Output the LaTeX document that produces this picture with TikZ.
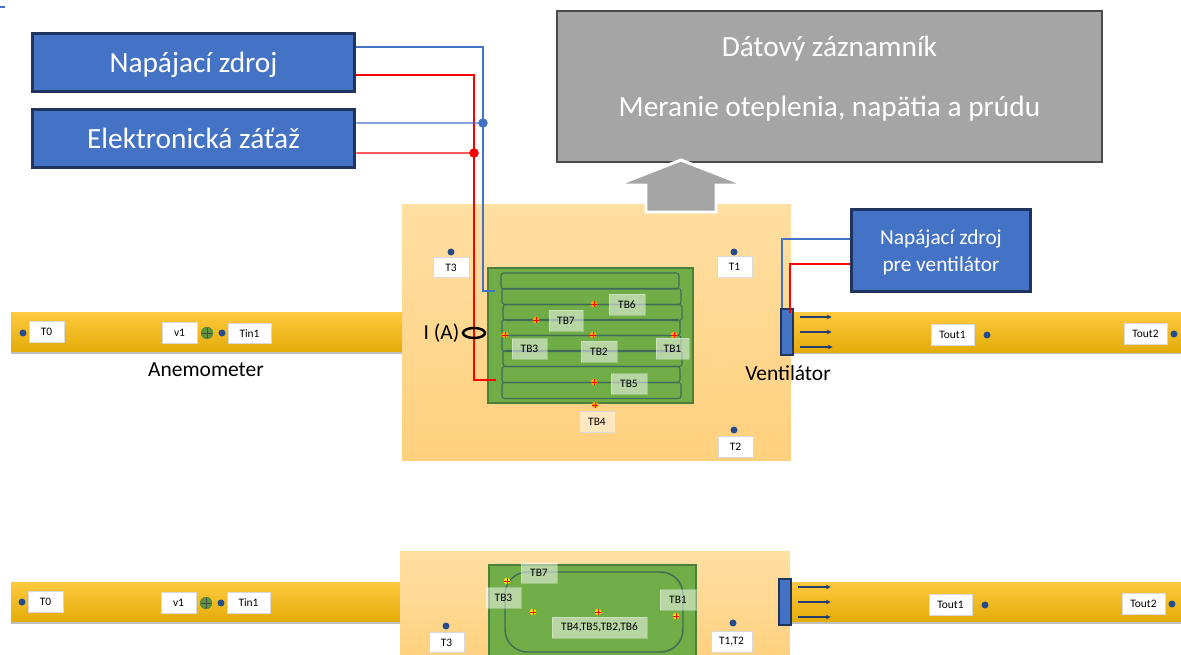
\documentclass[tikz,border=0pt]{standalone}
\usepackage{fontspec}
\setmainfont{Carlito}
\usetikzlibrary{arrows.meta,shapes.geometric,shadows}
\definecolor{boxblue}{HTML}{4472C4}
\definecolor{boxedge}{HTML}{1F3560}
\definecolor{logfill}{HTML}{A5A5A5}
\definecolor{logedge}{HTML}{4A4A4A}
\definecolor{pcbgreen}{HTML}{70AD47}
\definecolor{pcbedge}{HTML}{4B7F3A}
\definecolor{tubeedge}{HTML}{3F6A58}
\definecolor{dotblue}{HTML}{264C8C}
\definecolor{tagedge}{HTML}{D9D9D9}
\definecolor{wireblue}{HTML}{4472C4}
\definecolor{wirered}{HTML}{FF0000}
\definecolor{ductA}{HTML}{FFC940}
\definecolor{ductB}{HTML}{FFC000}
\definecolor{ductC}{HTML}{E3AC08}
\definecolor{panelA}{HTML}{FFDFA2}
\definecolor{panelB}{HTML}{FFD07E}
\begin{document}
\begin{tikzpicture}[
    x=0.02cm, y=-0.02cm,
    unit/.style={rectangle, draw=boxedge, line width=1.7pt, fill=boxblue, text=white, align=center, inner sep=0pt, text depth=0pt, font=\fontsize{16.7}{20}\selectfont},
    logger/.style={rectangle, draw=logedge, line width=1.3pt, fill=logfill, text=white, align=center, inner sep=0pt, font=\fontsize{16.7}{34}\selectfont},
    panel/.style={rectangle, inner sep=0pt, top color=panelA, bottom color=panelB},
    duct/.style={rectangle, inner sep=0pt, minimum height=0.8cm, top color=ductA, middle color=ductB, bottom color=ductC, drop shadow={opacity=0.5, shadow xshift=0pt, shadow yshift=-1pt}},
    pcb/.style={rectangle, draw=pcbedge, line width=0.7pt, fill=pcbgreen, inner sep=0pt},
    tube/.style={rectangle, draw=tubeedge, line width=0.6pt, rounded corners=1.5pt, inner sep=0pt},
    tag/.style={rectangle, draw=tagedge, line width=0.5pt, fill=white, inner sep=0pt, minimum height=0.41cm, font=\fontsize{6.5}{8}\selectfont},
    glass/.style={rectangle, draw=white, draw opacity=0.3, line width=0.5pt, fill=white, fill opacity=0.5, text opacity=1, inner sep=0pt, minimum height=0.42cm, font=\fontsize{6.5}{8}\selectfont},
    probe/.style={circle, fill=dotblue, inner sep=0pt, minimum size=0.14cm},
    sensor/.style={circle, fill=yellow!90!orange, inner sep=0pt, minimum size=0.13cm, path picture={
        \draw[red, line width=0.45pt] (path picture bounding box.north) -- (path picture bounding box.south);
        \draw[red, line width=0.45pt] (path picture bounding box.west) -- (path picture bounding box.east);}},
    hotspot/.style={sensor, fill=orange!70!yellow},
    anemo/.style={circle, fill=pcbgreen!85!black, draw=pcbedge, line width=0.3pt, inner sep=0pt, minimum size=0.23cm, path picture={
        \draw[black!70, line width=0.35pt] (path picture bounding box.north) -- (path picture bounding box.south);
        \draw[black!70, line width=0.35pt] (path picture bounding box.west) -- (path picture bounding box.east);}},
    fan/.style={rectangle, draw=boxedge, line width=0.6pt, fill=boxblue, inner sep=0pt, minimum width=0.24cm, minimum height=0.92cm},
    bluewire/.style={draw=wireblue, line width=0.7pt},
    redwire/.style={draw=wirered, line width=0.8pt},
    joint/.style={circle, inner sep=0pt, minimum size=0.19cm},
    flow/.style={-{Stealth[length=2.6pt,width=2.6pt]}, draw=boxedge!85!boxblue, line width=1pt},
    caption/.style={inner sep=0pt, font=\fontsize{12.2}{14}\selectfont}
]
\useasboundingbox (0,0) rectangle (1181,655);

% Stray mark, top left
\coordinate (marka) at (0,7);
\coordinate (markb) at (5,7);
\draw[bluewire] (marka) -- (markb);

% Panels
\node[panel, minimum width=7.78cm, minimum height=5.14cm] (chamber) at (596.5,332.5) {};
\node[panel, minimum width=7.8cm, minimum height=2.2cm] (chamberb) at (595,606) {};

% Units, top
\node[unit, minimum width=6.46cm, minimum height=1.16cm] (psu) at (193.5,62.5) {Napájací zdroj};
\node[unit, minimum width=6.46cm, minimum height=1.16cm] (load) at (193.5,138.5) {Elektronická záťaž};
\node[logger, minimum width=10.9cm, minimum height=3.02cm] (datalog) at (829.5,86.5) {Dátový záznamník\\Meranie oteplenia, napätia a prúdu\rule[-12pt]{0pt}{12pt}};
\node[unit, minimum width=3.58cm, minimum height=1.64cm, font=\fontsize{12.1}{15.4}\selectfont] (fanpsu) at (941,250.5) {Napájací zdroj\\pre ventilátor};

% Block arrow, chamber to logger
\coordinate (uptip) at (681,160);
\draw[draw=white, line width=1.7pt, fill=logfill] (uptip) -- ++(64,25) -- ++(-29,0) -- ++(0,27) -- ++(-70,0) -- ++(0,-27) -- ++(-29,0) -- cycle;

% Ducts, upper view
\node[duct, minimum width=7.82cm] (ductl) at (206.5,332) {};
\node[duct, minimum width=7.9cm] (ductr) at (990,332.5) {};

\node[probe] (pt0) at (23,333) {};
\node[tag, minimum width=0.7cm] (t0) at (46.5,332) {T0};
\node[tag, minimum width=0.7cm] (v1) at (179.5,333) {v1};
\node[anemo] (an) at (207,333) {};
\node[probe] (ptin) at (222,333) {};
\node[tag, minimum width=0.86cm] (tin) at (249.5,333.5) {Tin1};
\node[tag, minimum width=0.86cm] (tout) at (952.5,335) {Tout1};
\node[probe] (ptout) at (987,335) {};
\node[tag, minimum width=0.86cm] (touttwo) at (1145.5,334) {Tout2};
\node[probe] (ptouttwo) at (1174,334) {};

% Board, upper view
\node[pcb, minimum width=4.1cm, minimum height=2.7cm] (board) at (590.5,335.5) {};
\node[tube, minimum width=3.56cm, minimum height=0.32cm] (rowa) at (590,281) {};
\node[tube, minimum width=3.58cm, minimum height=0.32cm] (rowb) at (591.5,296.5) {};
\node[tube, minimum width=3.58cm, minimum height=0.32cm] (rowc) at (592.5,312.5) {};
\node[tube, minimum width=3.56cm, minimum height=0.32cm] (rowd) at (591,327.5) {};
\node[tube, minimum width=3.58cm, minimum height=0.32cm] (rowe) at (591.5,343.5) {};
\node[tube, minimum width=3.58cm, minimum height=0.32cm] (rowf) at (592.5,358.5) {};
\node[tube, minimum width=3.56cm, minimum height=0.32cm] (rowg) at (591,374.5) {};
\node[tube, minimum width=3.58cm, minimum height=0.32cm] (rowh) at (591.5,390.5) {};

\node[hotspot] (sb6) at (594,304) {};
\node[hotspot] (sb7) at (536,320) {};
\node[hotspot] (sb3) at (505,335) {};
\node[hotspot] (sb2) at (593,335) {};
\node[hotspot] (sb1) at (674,335) {};
\node[hotspot] (sb5) at (594,382) {};
\node[hotspot] (sb4) at (595,405) {};

\node[glass, minimum width=0.72cm] (tb6) at (627,304.5) {TB6};
\node[glass, minimum width=0.68cm] (tb7) at (566,320.5) {TB7};
\node[glass, minimum width=0.7cm] (tb3) at (529.5,349) {TB3};
\node[glass, minimum width=0.72cm] (tb2) at (599,351.5) {TB2};
\node[glass, minimum width=0.66cm] (tb1) at (672.5,348.5) {TB1};
\node[glass, minimum width=0.72cm] (tb5) at (629,384) {TB5};
\node[glass, minimum width=0.72cm, draw=tagedge, draw opacity=1] (tb4) at (597,422) {TB4};

% Chamber probes
\node[probe] (pt3) at (451,252) {};
\node[tag, minimum width=0.72cm] (t3) at (451,267.5) {T3};
\node[probe] (pt1) at (734,252) {};
\node[tag, minimum width=0.7cm] (t1) at (734.5,267) {T1};
\node[probe] (pt2) at (734,430) {};
\node[tag, minimum width=0.7cm] (t2) at (735.5,447) {T2};

% Fan, upper view
\node[fan] (fanup) at (787,332) {};
\draw[flow] ([xshift=0.12cm,yshift=0.3cm]fanup.east) -- ++(32,0);
\draw[flow] ([xshift=0.12cm]fanup.east) -- ++(32,0);
\draw[flow] ([xshift=0.12cm,yshift=-0.3cm]fanup.east) -- ++(33,0);

% Wiring
\coordinate (blueend) at (495,291);
\coordinate (redend) at (496,380);
\node[joint, fill=wireblue] (bluejoint) at (483,123) {};
\node[joint, fill=wirered] (redjoint) at (474,153) {};
\draw[bluewire] ([yshift=0.31cm]psu.east) -| (bluejoint.center) |- (blueend);
\draw[redwire] ([yshift=-0.25cm]psu.east) -| (redjoint.center) |- (redend);
\draw[bluewire] ([yshift=0.31cm]load.east) -- (bluejoint.center);
\draw[redwire] ([yshift=-0.29cm]load.east) -- (redjoint.center);
\coordinate (fanred) at (790,313);
\draw[bluewire] ([yshift=0.23cm]fanpsu.west) -| ([xshift=-0.1cm]fanup.north);
\draw[redwire, line width=1pt] ([yshift=-0.27cm]fanpsu.west) -| (fanred);

% Current clamp and captions
\node[caption] (current) at (441.5,333) {I (A)};
\node[ellipse, draw=black, line width=1.4pt, inner sep=0pt, minimum width=0.44cm, minimum height=0.2cm] (clamp) at (474,333) {};
\node[caption] (anlabel) at (206,370) {Anemometer};
\node[caption] (fanlabel) at (788,373) {Ventilátor};

% Ducts, lower view
\node[duct, minimum width=7.78cm] (ductlb) at (205.5,602) {};
\node[duct, minimum width=7.9cm] (ductrb) at (988,602) {};

\node[probe] (pt0b) at (22,602) {};
\node[tag, minimum width=0.7cm] (t0b) at (45.5,602) {T0};
\node[tag, minimum width=0.7cm] (v1b) at (178.5,603) {v1};
\node[anemo] (anb) at (206,603) {};
\node[probe] (ptinb) at (221,603) {};
\node[tag, minimum width=0.86cm] (tinb) at (248.5,603) {Tin1};
\node[tag, minimum width=0.86cm] (toutb) at (950.5,605) {Tout1};
\node[probe] (ptoutb) at (985,605) {};
\node[tag, minimum width=0.86cm] (touttwob) at (1143.5,604) {Tout2};
\node[probe] (ptouttwob) at (1172,604) {};

% Board, lower view
\node[pcb, minimum width=4.14cm, minimum height=2cm] (boardb) at (592.5,615) {};
\node[rectangle, draw=tubeedge, line width=0.8pt, rounded corners=4.5mm, inner sep=0pt, minimum width=3.56cm, minimum height=1.6cm] (loopb) at (594,612) {};
\node[sensor] (sc7) at (507,581) {};
\node[sensor] (sc3) at (533,612) {};
\node[sensor] (sc2) at (598,612) {};
\node[sensor] (sc1) at (676,616) {};
\node[glass, minimum width=0.72cm] (tc7) at (539,573) {TB7};
\node[glass, minimum width=0.7cm] (tc3) at (503.5,598) {TB3};
\node[glass, minimum width=0.72cm] (tc1) at (678,600) {TB1};
\node[glass, minimum width=1.9cm] (tcall) at (599.5,627.5) {TB4,TB5,TB2,TB6};

\node[probe] (pt3b) at (446,626) {};
\node[tag, minimum width=0.7cm] (t3b) at (446.5,642.5) {T3};
\node[probe] (pt12b) at (733,623) {};
\node[tag, minimum width=0.82cm] (t12b) at (731.5,642) {T1,T2};

% Fan, lower view
\node[fan] (fanlow) at (785,602) {};
\draw[flow] ([xshift=0.12cm,yshift=0.3cm]fanlow.east) -- ++(33,0);
\draw[flow] ([xshift=0.12cm]fanlow.east) -- ++(33,0);
\draw[flow] ([xshift=0.12cm,yshift=-0.3cm]fanlow.east) -- ++(33,0);

\end{tikzpicture}
\end{document}
